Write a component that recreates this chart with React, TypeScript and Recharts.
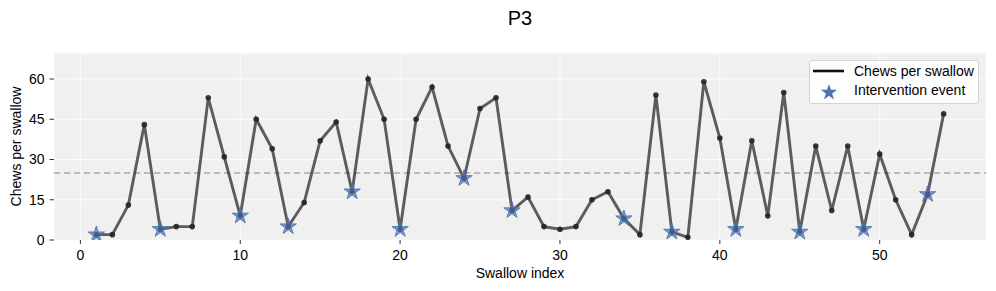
import React from 'react';
import {
  ComposedChart,
  Line,
  Scatter,
  XAxis,
  YAxis,
  CartesianGrid,
  ReferenceLine,
  Label,
} from 'recharts';

const swallowIndex = [
  1, 2, 3, 4, 5, 6, 7, 8, 9, 10, 11, 12, 13, 14, 15, 16, 17, 18, 19, 20, 21, 22, 23, 24, 25, 26, 27,
  28, 29, 30, 31, 32, 33, 34, 35, 36, 37, 38, 39, 40, 41, 42, 43, 44, 45, 46, 47, 48, 49, 50, 51, 52,
  53, 54,
];
const chewsPerSwallow = [
  2, 2, 13, 43, 4, 5, 5, 53, 31, 9, 45, 34, 5, 14, 37, 44, 18, 60, 45, 4, 45, 57, 35, 23, 49, 53, 11,
  16, 5, 4, 5, 15, 18, 8, 2, 54, 3, 1, 59, 38, 4, 37, 9, 55, 3, 35, 11, 35, 4, 32, 15, 2, 17, 47,
];
const interventionIndex = [1, 5, 10, 13, 17, 20, 24, 27, 34, 37, 41, 45, 49, 53];
const interventionChews = [2, 4, 9, 5, 18, 4, 23, 11, 8, 3, 4, 3, 4, 17];
const xTicks = [0, 10, 20, 30, 40, 50];
const yTicks = [0, 15, 30, 45, 60];
const threshold = 25;

const lineData = swallowIndex.map((x, i) => ({ x, y: chewsPerSwallow[i] }));
const starData = interventionIndex.map((x, i) => ({ x, y: interventionChews[i] }));

const FONT = '"Liberation Sans", Arial, Helvetica, sans-serif';
const BLUE = '#4c72b0';

function starPoints(cx: number, cy: number, R: number): string {
  const r = R * 0.381966;
  const pts: string[] = [];
  for (let k = 0; k < 10; k++) {
    const rad = k % 2 === 0 ? R : r;
    const a = (-90 + k * 36) * (Math.PI / 180);
    pts.push(`${cx + rad * Math.cos(a)},${cy + rad * Math.sin(a)}`);
  }
  return pts.join(' ');
}

const StarShape = (props: any) => {
  const { cx, cy } = props;
  if (cx == null || cy == null) return null;
  return (
    <polygon
      points={starPoints(cx, cy, 8.6)}
      fill={BLUE}
      fillOpacity={0.7}
      stroke={BLUE}
      strokeOpacity={0.85}
      strokeWidth={1}
      strokeLinejoin="miter"
    />
  );
};

export default function App() {
  return (
    <div style={{ position: 'absolute', left: 0, top: 0, width: 996, height: 291, background: '#fff' }}>
      <div
        style={{
          position: 'absolute',
          left: 54,
          top: 8,
          width: 932,
          textAlign: 'center',
          fontFamily: FONT,
          fontSize: 20,
          lineHeight: '20px',
          color: '#000',
        }}
      >
        P3
      </div>
      <ComposedChart
        width={996}
        height={291}
        data={lineData}
        margin={{ top: 53, right: 10, bottom: 0, left: 0 }}
        style={{ fontFamily: FONT }}
      >
        <CartesianGrid fill="#f0f0f0" stroke="#ffffff" strokeOpacity={0.75} strokeWidth={1} />
        <XAxis
          dataKey="x"
          type="number"
          domain={[-1.65, 56.65]}
          allowDataOverflow
          ticks={xTicks}
          height={51}
          axisLine={false}
          tickLine={{ stroke: '#333', strokeWidth: 1 }}
          tickSize={4}
          tickMargin={6}
          tick={{ fill: '#000', fontSize: 14, fontFamily: FONT }}
        >
          <Label
            content={(p: any) => {
              const vb = p.viewBox || {};
              return (
                <text
                  x={vb.x + vb.width / 2}
                  y={vb.y + 37.7}
                  textAnchor="middle"
                  fontSize={14}
                  fontFamily={FONT}
                  fill="#000"
                >
                  Swallow index
                </text>
              );
            }}
          />
        </XAxis>
        <YAxis
          type="number"
          domain={[0, 69.7]}
          allowDataOverflow
          ticks={yTicks}
          width={54}
          axisLine={false}
          tickLine={{ stroke: '#333', strokeWidth: 1 }}
          tickSize={4.5}
          tickMargin={5}
          tick={{ fill: '#000', fontSize: 14, fontFamily: FONT }}
        >
          <Label
            content={(p: any) => {
              const vb = p.viewBox || {};
              const cy = vb.y + vb.height / 2;
              return (
                <text
                  x={21}
                  y={cy}
                  transform={`rotate(-90, 21, ${cy})`}
                  textAnchor="middle"
                  fontSize={14}
                  fontFamily={FONT}
                  fill="#000"
                >
                  Chews per swallow
                </text>
              );
            }}
          />
        </YAxis>
        <ReferenceLine y={threshold} stroke="#aaaaaa" strokeWidth={1.6} strokeDasharray="6.3 3.7" />
        <Line
          dataKey="y"
          type="linear"
          stroke="#222222"
          strokeOpacity={0.72}
          strokeWidth={2.9}
          dot={{ r: 2.8, fill: '#222222', stroke: 'none', fillOpacity: 0.9 }}
          activeDot={false}
          isAnimationActive={false}
        />
        <Scatter data={starData} dataKey="y" shape={StarShape} isAnimationActive={false} />
      </ComposedChart>
      <div
        style={{
          position: 'absolute',
          left: 809,
          top: 60,
          width: 168,
          height: 42,
          border: '1px solid #d4d4d4',
          borderRadius: 3,
          background: 'rgba(255,255,255,0.85)',
          fontFamily: FONT,
          fontSize: 14,
          color: '#000',
        }}
      >
        <svg width={168} height={42} style={{ position: 'absolute', left: 0, top: 0 }}>
          <line x1={3} y1={10} x2={34} y2={10} stroke="#111" strokeWidth={2.6} />
          <polygon points={starPoints(19, 31.5, 8.6)} fill={BLUE} />
          <text x={44} y={15} fontSize={14} fontFamily={FONT} fill="#000">
            Chews per swallow
          </text>
          <text x={44} y={33.6} fontSize={14} fontFamily={FONT} fill="#000">
            Intervention event
          </text>
        </svg>
      </div>
    </div>
  );
}
